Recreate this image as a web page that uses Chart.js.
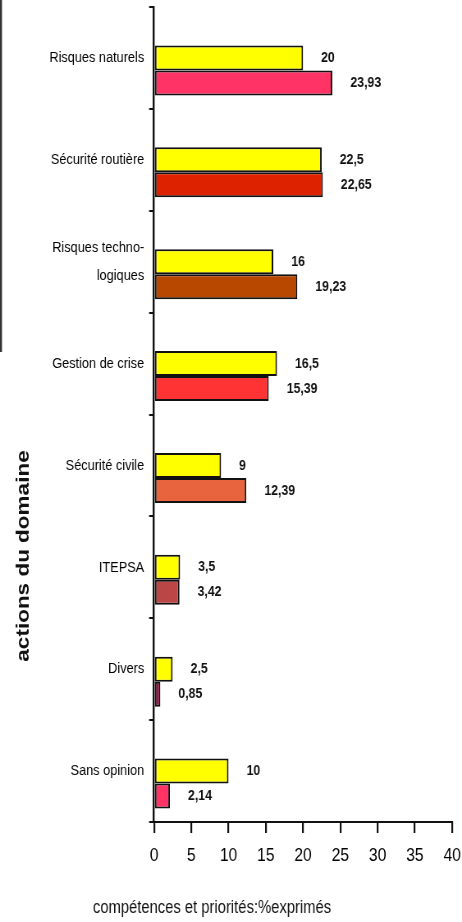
<!DOCTYPE html>
<html>
<head>
<meta charset="utf-8">
<script src="https://cdn.jsdelivr.net/npm/chart.js@4"></script>
<style>
  html, body { margin: 0; padding: 0; background: #fff; }
  /* le canvas est dessiné plus large puis resserré : police type Arial Narrow */
  #myChart { display: block; width: 462px !important; height: 922px !important; }
</style>
</head>
<body>
<canvas id="myChart" width="563" height="922"></canvas>
<script>
const categories = ['Risques naturels', 'Sécurité routière', ['Risques techno-', 'logiques'], 'Gestion de crise',
    'Sécurité civile', 'ITEPSA', 'Divers', 'Sans opinion'];
const competences = [20, 22.5, 16, 16.5, 9, 3.5, 2.5, 10];
const priorites = [23.93, 22.65, 19.23, 15.39, 12.39, 3.42, 0.85, 2.14];
const prioriteColors = ['#FF3366', '#DD2200', '#B84800', '#FF3333', '#E8643E', '#BB4646', '#B00A48', '#FF3366'];
const xMin = 0, xMax = 40, xStep = 5;

const sx = 462 / 563; // facteur de resserrement horizontal
const police = "'Liberation Sans', Arial, sans-serif";

// valeurs affichées a droite des barres, virgule decimale
const labelsPlugin = {
    id: 'valeurs',
    afterDatasetsDraw(chart) {
        const ctx = chart.ctx;
        ctx.save();
        ctx.fillStyle = '#111';
        ctx.font = 'bold 15px ' + police;
        ctx.textAlign = 'left';
        ctx.textBaseline = 'middle';
        [1, 2].forEach(i => {
            const ds = chart.data.datasets[i];
            chart.getDatasetMeta(i).data.forEach((bar, j) => {
                ctx.fillText(String(ds.data[j]).replace('.', ','), bar.x + 18 / sx, bar.y);
            });
        });
        ctx.restore();
    }
};

// titres des axes + trait gauche du cadre
const titresPlugin = {
    id: 'titres',
    afterDraw(chart) {
        const ctx = chart.ctx;
        ctx.save();
        ctx.strokeStyle = '#333';
        ctx.lineWidth = 2.4;
        ctx.beginPath();
        ctx.moveTo(1.2, 0);
        ctx.lineTo(1.2, 352);
        ctx.stroke();

        ctx.fillStyle = '#111';
        ctx.font = '18px ' + police;
        ctx.textAlign = 'center';
        ctx.textBaseline = 'alphabetic';
        ctx.fillText('compétences et priorités:%exprimés', 212 / sx, 913);

        ctx.translate(24 / sx, 556);
        ctx.rotate(-Math.PI / 2);
        ctx.font = 'bold 22.5px ' + police;
        ctx.textBaseline = 'middle';
        ctx.fillText('actions du domaine', 0, 0);
        ctx.restore();
    }
};

const ctx = document.getElementById('myChart').getContext('2d');
const myChart = new Chart(ctx, {
    type: 'bar',
    data: {
        labels: categories,
        datasets: [{
            label: '',
            data: categories.map(() => null) // place vide au-dessus du jaune
        }, {
            label: 'compétences',
            data: competences,
            backgroundColor: '#FFFF00',
            borderColor: '#111',
            borderWidth: 2,
            borderSkipped: false
        }, {
            label: 'priorités',
            data: priorites,
            backgroundColor: prioriteColors,
            borderColor: '#111',
            borderWidth: 2,
            borderSkipped: false
        }]
    },
    options: {
        indexAxis: 'y',
        responsive: false,
        animation: false,
        devicePixelRatio: 1,
        categoryPercentage: 0.736,
        barPercentage: 1,
        layout: { padding: { top: 7, right: 12, left: 0, bottom: 0 } },
        plugins: {
            legend: { display: false },
            tooltip: { enabled: false }
        },
        scales: {
            x: {
                min: xMin,
                max: xMax,
                ticks: {
                    stepSize: xStep,
                    color: '#000',
                    padding: 11,
                    font: { family: police, size: 19 }
                },
                grid: {
                    drawOnChartArea: false,
                    color: '#111',
                    lineWidth: 2.2,
                    tickLength: 11
                },
                border: { color: '#111', width: 2 },
                afterFit(scale) {
                    scale.height = 100;
                    scale.paddingLeft = 0;
                    scale.paddingRight = 0;
                }
            },
            y: {
                ticks: {
                    color: '#000',
                    padding: 6,
                    font: { family: police, size: 15.5, lineHeight: 1.8 }
                },
                grid: {
                    drawOnChartArea: false,
                    color: '#111',
                    lineWidth: 2,
                    tickLength: 6
                },
                border: { color: '#111', width: 2.4 },
                afterFit(scale) {
                    scale.width = 154 / sx;
                    scale.paddingTop = 0;
                    scale.paddingBottom = 0;
                }
            }
        }
    },
    plugins: [labelsPlugin, titresPlugin]
});
</script>
</body>
</html>
